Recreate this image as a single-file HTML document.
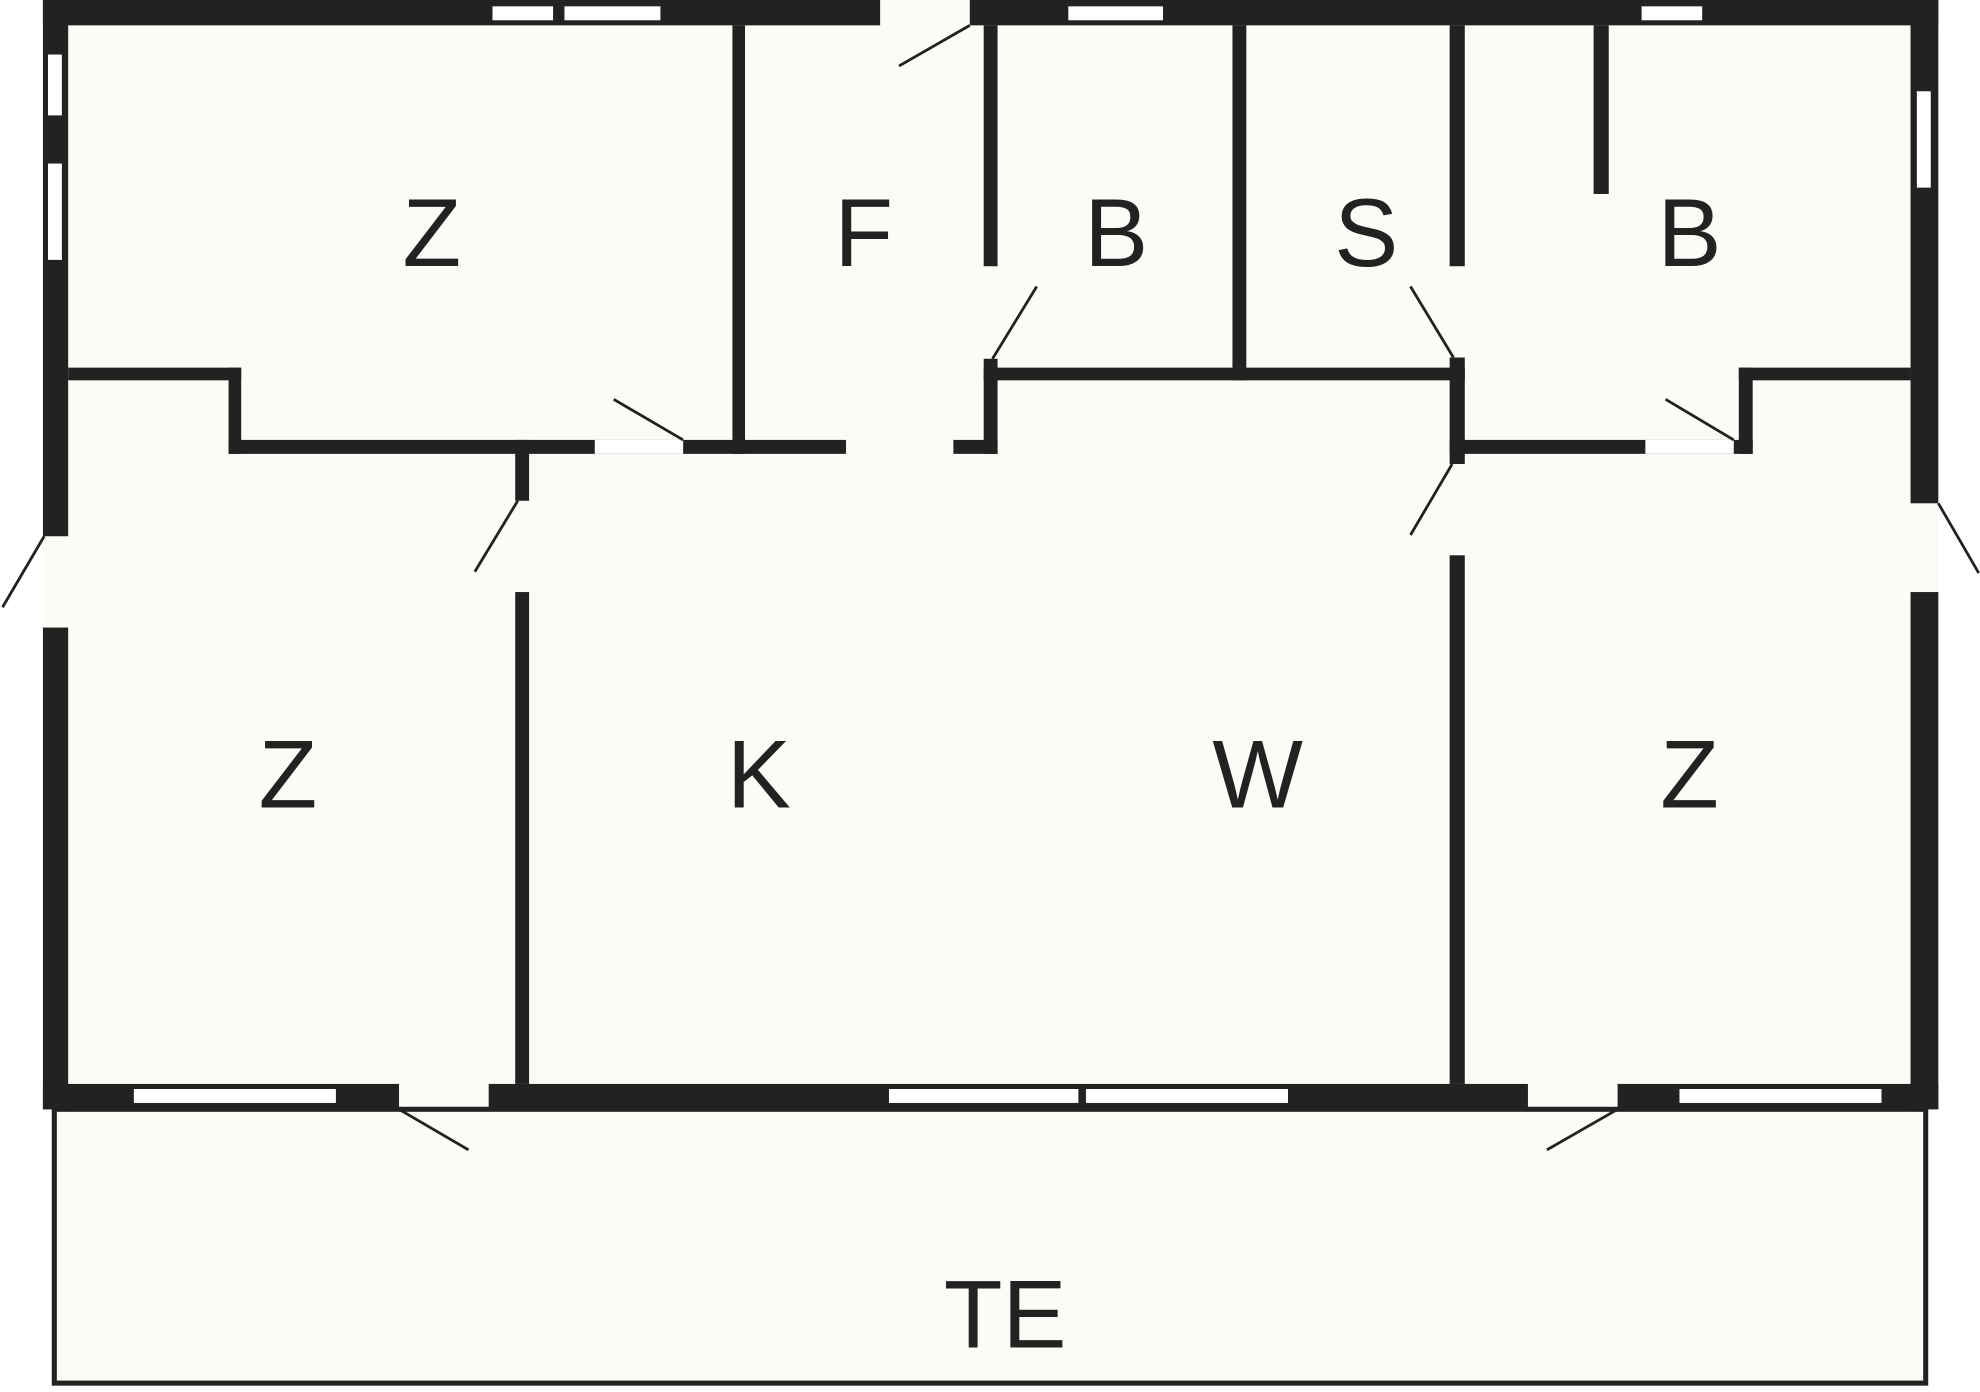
<!DOCTYPE html>
<html><head><meta charset="utf-8"><style>html,body{margin:0;padding:0;background:#fff}svg{display:block}</style></head><body>
<svg width="1980" height="1392" viewBox="0 0 1568 1098" preserveAspectRatio="none" xmlns="http://www.w3.org/2000/svg">
<rect x="34" y="0" width="1501" height="875" fill="#fcfcf6"/>
<rect x="43" y="875" width="1482" height="216" fill="#fcfcf6" stroke="#222" stroke-width="4"/>
<g fill="#222">
<rect x="34" y="0" width="663" height="20"/>
<rect x="768" y="0" width="767" height="20"/>
<rect x="34" y="0" width="20" height="423"/>
<rect x="34" y="495" width="20" height="380"/>
<rect x="1513" y="0" width="22" height="397"/>
<rect x="1513" y="467" width="22" height="408"/>
<rect x="34" y="855" width="282" height="20"/>
<rect x="387" y="855" width="823" height="20"/>
<rect x="1281" y="855" width="254" height="20"/>
<rect x="580" y="20" width="10" height="338"/>
<rect x="54" y="290" width="137" height="10"/>
<rect x="181" y="290" width="10" height="68"/>
<rect x="181" y="347" width="489" height="11"/>
<rect x="408" y="347" width="11" height="48"/>
<rect x="408" y="467" width="11" height="388"/>
<rect x="779" y="20" width="11" height="190"/>
<rect x="779" y="283" width="11" height="75"/>
<rect x="755" y="347" width="35" height="11"/>
<rect x="779" y="290" width="381" height="10"/>
<rect x="976" y="20" width="11" height="280"/>
<rect x="1148" y="20" width="12" height="190"/>
<rect x="1148" y="282" width="12" height="84"/>
<rect x="1148" y="438" width="12" height="417"/>
<rect x="1148" y="347" width="240" height="11"/>
<rect x="1377" y="290" width="11" height="68"/>
<rect x="1377" y="290" width="136" height="10"/>
<rect x="1262" y="20" width="12" height="133"/>
</g>
<g fill="#fff">
<rect x="390" y="5" width="48" height="11"/><rect x="447" y="5" width="76" height="11"/>
<rect x="846" y="5" width="75" height="11"/><rect x="1300" y="5" width="48" height="11"/>
<rect x="38" y="43" width="11" height="48"/><rect x="38" y="129" width="11" height="76"/>
<rect x="1518" y="72" width="11" height="76"/>
<rect x="106" y="859" width="160" height="11"/><rect x="704" y="859" width="150" height="11"/>
<rect x="860" y="859" width="160" height="11"/><rect x="1330" y="859" width="160" height="11"/>
<rect x="471" y="347" width="70" height="11"/><rect x="1303" y="347" width="70" height="11"/>
</g>
<g stroke="#222" stroke-width="2.2">
<line x1="712" y1="52" x2="768" y2="20"/>
<line x1="786" y1="283" x2="821" y2="226"/>
<line x1="1117" y1="226" x2="1151" y2="282"/>
<line x1="486" y1="315" x2="541" y2="347"/>
<line x1="1319" y1="315" x2="1373" y2="347"/>
<line x1="376" y1="451" x2="410" y2="395"/>
<line x1="1117" y1="422" x2="1150" y2="366"/>
<line x1="2" y1="479" x2="35" y2="423"/>
<line x1="1535" y1="397" x2="1567" y2="452"/>
<line x1="316" y1="875" x2="371" y2="907"/>
<line x1="1225" y1="907" x2="1281" y2="875"/>
</g>
<g font-family="Liberation Sans, sans-serif" font-size="76" fill="#222" text-anchor="middle">
<text x="342" y="210">Z</text><text x="684" y="210">F</text><text x="884" y="210">B</text>
<text x="1082" y="210">S</text><text x="1338" y="210">B</text>
<text x="228" y="637">Z</text><text x="601" y="637">K</text><text x="996" y="637">W</text>
<text x="1338" y="637">Z</text><text x="796" y="1063">TE</text>
</g>
</svg>
</body></html>
